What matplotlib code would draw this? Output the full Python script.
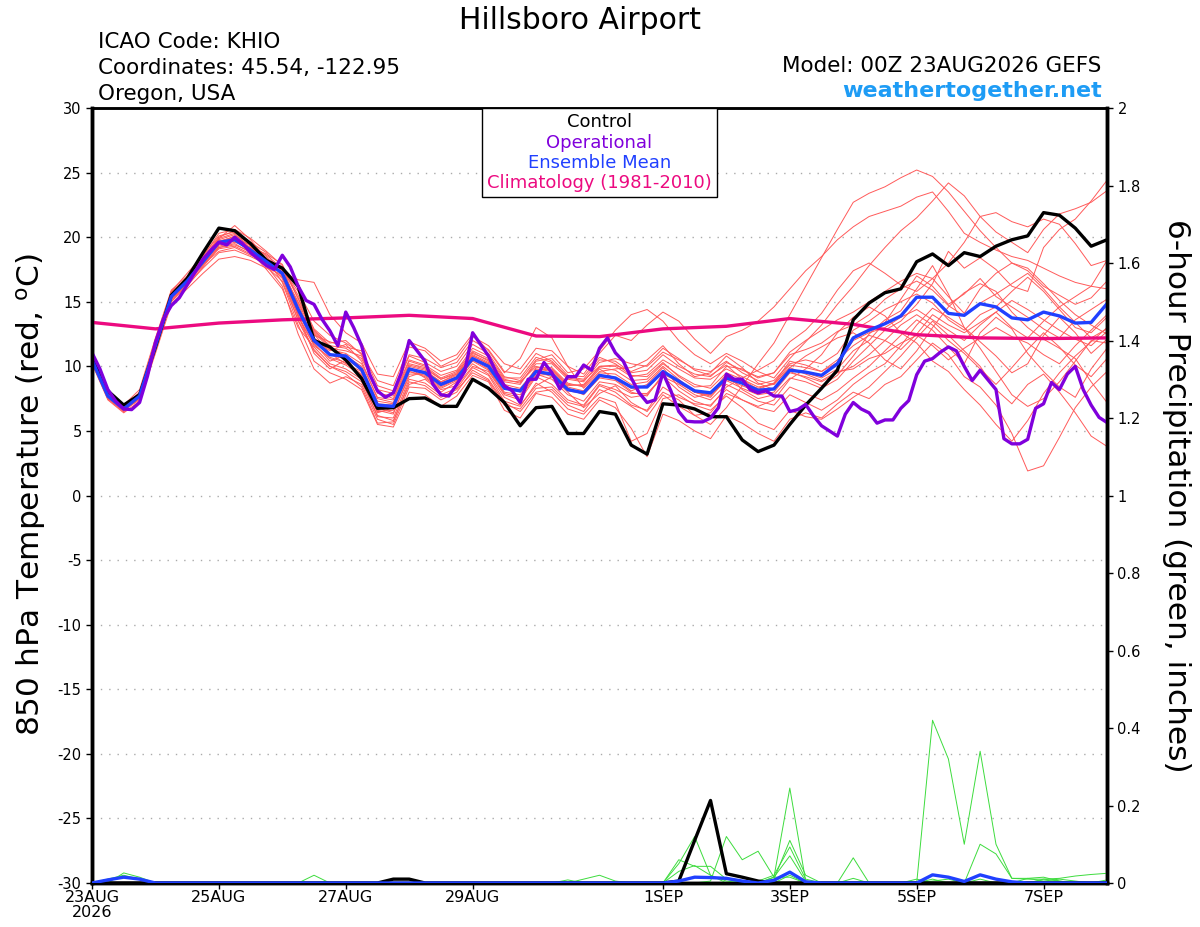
import matplotlib
matplotlib.use('Agg')
import matplotlib.pyplot as plt
import numpy as np

plt.rcParams['font.family'] = ['DejaVu Sans']
plt.rcParams['axes.unicode_minus'] = False

# forecast hours: 6-hourly ensemble, 3-hourly operational, daily climatology
hours_6h = np.arange(0, 385, 6)
hours_3h = np.arange(0, 385, 3)
hours_24h = np.arange(0, 385, 24)

tick_hours = [0, 48, 96, 144, 216, 264, 312, 360]
tick_labels = ['23AUG\n2026', '25AUG', '27AUG', '29AUG', '1SEP', '3SEP', '5SEP', '7SEP']

# 850 hPa temperature (C)
control_t = [10.6, 8.1, 7.0, 7.8, 11.5, 15.5, 16.8, 18.8, 20.7, 20.5, 19.5, 18.2, 17.6, 16.2, 12.0, 11.5, 10.5,
             9.05, 6.75, 6.8, 7.5, 7.55, 6.9, 6.9, 9.0, 8.3, 7.2, 5.4, 6.8, 6.9, 4.8, 4.8, 6.5,
             6.3, 3.9, 3.2, 7.1, 7.0, 6.7, 6.1, 6.1, 4.3, 3.4, 3.9, 5.5, 7.0, 8.3, 9.7,
             13.6, 14.9, 15.7, 16.0, 18.1, 18.7, 17.8, 18.8, 18.5, 19.3, 19.8, 20.1, 21.9, 21.7, 20.7, 19.3, 19.8]

mean_t = [10.5, 7.7, 6.7, 7.7, 11.6, 15.4, 16.6, 18.1, 19.6, 19.8, 19.0, 18.1, 17.2, 14.4, 12.0, 10.9, 10.8,
          9.75, 7.0, 6.9, 9.8, 9.5, 8.6, 9.1, 10.6, 10.0, 8.3, 8.1, 9.6, 9.4, 8.2, 7.95, 9.3,
          9.1, 8.4, 8.4, 9.6, 8.85, 8.1, 7.95, 9.1, 8.7, 8.15, 8.25, 9.7, 9.55, 9.3, 10.2,
          12.2, 12.8, 13.3, 13.9, 15.35, 15.35, 14.1, 13.95, 14.85, 14.6, 13.75, 13.6, 14.2, 13.9, 13.35, 13.4, 14.85]

operational_t = [11.05, 9.8, 8.2, 7.3, 6.7, 6.65, 7.2, 9.25, 11.85, 13.65, 14.7, 15.3, 16.3, 17.3, 18.3, 19.0,
                 19.6, 19.4, 20.0, 19.5, 18.8, 18.3, 17.8, 17.5, 18.6, 17.7, 16.2, 15.1, 14.8, 13.65, 12.75, 11.6,
                 14.2, 13.0, 11.6, 9.4, 8.1, 7.6, 7.95, 9.5, 12.0, 11.2, 10.4, 8.6, 7.8, 7.7, 8.6, 9.6,
                 12.6, 11.7, 10.8, 9.5, 8.5, 8.1, 7.2, 9.0, 9.0, 10.3, 9.5, 8.25, 9.2, 9.2, 10.1, 9.7,
                 11.4, 12.2, 11.05, 10.4, 9.1, 7.95, 7.2, 7.4, 9.5, 8.1, 6.5, 5.75, 5.7, 5.7, 6.0, 6.8,
                 9.4, 9.0, 9.0, 8.2, 7.95, 8.1, 7.7, 7.7, 6.5, 6.65, 7.05, 6.15, 5.4, 5.0, 4.6, 6.3,
                 7.2, 6.7, 6.4, 5.6, 5.85, 5.85, 6.75, 7.35, 9.35, 10.4, 10.6, 11.1, 11.5, 11.2, 10.0, 8.9,
                 9.7, 8.95, 8.2, 4.4, 4.0, 4.0, 4.35, 6.75, 7.1, 8.75, 8.2, 9.4, 10.0, 8.2, 7.0, 6.05,
                 5.65]

climatology_t = [13.4, 12.9, 13.35, 13.6, 13.75, 13.95, 13.7, 12.35, 12.3, 12.9, 13.1, 13.7, 13.25, 12.45,
                 12.2, 12.15, 12.2]

members_t = [
    [10.3, 7.5, 6.5, 7.9, 12.0, 15.8, 17.2, 18.6, 20.1, 20.4, 19.5, 18.5, 17.0, 13.5, 11.2, 10.0, 9.6,
     8.8, 6.2, 5.8, 8.6, 9.0, 8.0, 8.8, 10.2, 9.4, 7.6, 7.0, 8.5, 9.2, 8.0, 6.8, 7.9, 8.5, 7.2, 6.5, 8.0,
     7.4, 6.2, 5.5, 6.8, 8.5, 10.2, 11.8, 14.0, 16.2, 18.4, 20.6,
     22.7, 23.4, 23.9, 24.6, 25.2, 24.7, 23.5, 22.0, 20.5, 19.2, 18.0, 17.4, 16.2, 15.5, 14.8, 15.3, 16.6],
    [10.7, 7.9, 6.9, 7.5, 11.2, 15.0, 16.4, 17.8, 19.3, 19.6, 19.2, 18.7, 17.9, 15.2, 12.8, 11.6, 11.4,
     10.6, 8.2, 7.9, 10.8, 10.3, 9.6, 10.0, 11.7, 11.0, 9.2, 8.9, 10.5, 10.9, 9.5, 9.8, 11.2, 12.8, 14.0,
     14.4, 13.5, 12.0, 10.9, 10.2, 11.0, 10.4, 9.6, 9.1, 10.6, 11.9, 13.2, 14.8,
     16.2, 17.8, 19.2, 20.5, 21.5, 22.8, 24.2, 23.2, 21.6, 20.4, 19.6, 18.8, 20.6, 21.8, 22.2, 22.7, 23.6],
    [10.4, 7.6, 6.6, 7.6, 11.8, 15.6, 16.9, 18.4, 19.9, 20.9, 19.8, 18.3, 16.5, 13.2, 10.4, 9.5, 9.0,
     8.2, 5.5, 5.3, 8.0, 7.8, 6.9, 7.7, 9.3, 8.8, 6.6, 6.0, 7.9, 7.6, 6.3, 5.9, 7.4, 6.8, 5.2, 3.0, 6.3,
     5.8, 5.0, 4.4, 6.2, 5.6, 4.8, 4.2, 5.9, 6.4, 6.0, 7.1,
     8.0, 7.5, 8.6, 9.2, 10.5, 11.8, 10.9, 9.2, 8.4, 7.0, 4.8, 1.9, 2.3, 4.5, 6.8, 8.4, 9.6],
    [10.6, 7.8, 7.0, 8.2, 12.2, 15.9, 17.0, 18.2, 19.2, 19.5, 18.8, 18.0, 17.5, 15.8, 13.5, 12.4, 11.8,
     11.0, 8.9, 8.5, 11.5, 11.2, 10.0, 10.6, 12.3, 11.6, 10.2, 9.8, 11.4, 11.2, 10.0, 9.4, 11.0, 12.4, 12.0,
     13.2, 14.2, 13.5, 12.1, 11.0, 12.3, 12.8, 13.5, 14.6, 16.0, 17.4, 18.5, 19.8,
     20.8, 21.6, 22.0, 22.4, 23.1, 23.5, 22.0, 20.3, 19.6, 19.0, 18.5, 18.2, 17.6, 17.0, 16.5, 16.2, 16.0],
    [10.2, 7.4, 6.4, 7.3, 11.0, 14.8, 16.0, 17.2, 18.3, 18.5, 18.2, 17.6, 17.1, 14.9, 12.5, 11.0, 10.2,
     9.6, 6.8, 6.4, 9.2, 9.6, 8.8, 9.4, 10.8, 10.2, 8.5, 8.0, 9.9, 9.9, 8.7, 8.4, 9.8, 9.0, 8.1, 8.6, 9.9,
     8.4, 7.6, 7.9, 9.4, 8.2, 7.5, 7.8, 9.1, 8.8, 8.3, 9.0,
     10.4, 11.6, 12.8, 13.5, 14.8, 16.4, 18.9, 17.6, 18.4, 17.5, 16.2, 15.8, 19.2, 20.6, 21.4, 22.8, 24.4],
    [10.8, 8.0, 6.8, 7.8, 11.7, 15.5, 16.8, 18.5, 20.3, 20.6, 19.9, 18.9, 17.8, 14.0, 11.0, 9.8, 10.5,
     9.2, 6.4, 6.8, 9.9, 9.1, 8.2, 8.5, 10.0, 9.6, 7.8, 7.4, 9.2, 8.6, 7.4, 7.0, 8.6, 8.2, 7.6, 7.8, 9.2,
     8.1, 7.3, 6.9, 8.4, 9.1, 9.7, 10.4, 11.9, 12.8, 14.1, 15.9,
     17.4, 18.0, 17.2, 16.3, 15.8, 16.8, 18.0, 19.6, 21.6, 21.9, 21.2, 20.8, 21.4, 21.0, 19.5, 17.8, 18.2],
    [10.5, 7.7, 6.6, 7.4, 11.4, 15.2, 16.3, 17.6, 18.8, 19.0, 18.5, 17.9, 17.3, 16.7, 16.5, 14.0, 12.6,
     11.8, 9.4, 9.2, 11.9, 11.4, 10.4, 10.9, 12.5, 11.2, 9.5, 10.6, 13.0, 12.2, 10.0, 8.3, 9.6, 9.8, 9.9,
     10.5, 11.6, 10.2, 9.2, 9.5, 10.8, 9.9, 8.7, 8.2, 9.6, 9.1, 8.5, 9.3,
     10.8, 12.5, 13.6, 14.3, 16.0, 17.8, 15.6, 13.0, 11.9, 10.8, 9.5, 10.2, 12.4, 13.8, 12.6, 11.0, 12.1],
    [10.4, 7.6, 6.7, 7.9, 11.9, 15.7, 16.9, 18.3, 19.8, 20.2, 19.3, 17.8, 16.2, 12.5, 9.8, 8.7, 9.2,
     8.6, 5.9, 5.5, 8.4, 8.3, 7.4, 8.0, 9.7, 9.0, 7.2, 6.5, 8.0, 8.2, 7.0, 6.5, 8.2, 7.7, 6.9, 6.1, 7.8,
     6.9, 6.2, 6.4, 7.9, 7.4, 6.9, 7.4, 9.0, 9.8, 10.9, 12.6,
     13.8, 14.6, 13.9, 12.6, 11.8, 10.4, 9.6, 8.2, 7.0, 5.5, 4.2, 5.8, 7.9, 9.5, 10.8, 11.9, 13.0],
    [10.6, 7.8, 6.8, 7.6, 11.5, 15.3, 16.5, 17.9, 19.4, 19.9, 19.4, 18.6, 17.6, 15.5, 12.9, 11.8, 12.0,
     10.9, 8.0, 7.5, 10.4, 10.0, 9.1, 9.6, 11.2, 10.6, 9.0, 8.7, 10.2, 10.2, 9.0, 8.8, 10.3, 10.6, 10.2,
     10.0, 11.1, 10.5, 9.8, 9.6, 10.4, 9.5, 8.9, 8.6, 9.9, 10.8, 11.5, 12.2,
     12.6, 11.8, 10.5, 9.8, 11.2, 13.0, 14.6, 15.7, 16.4, 15.8, 14.2, 13.0, 12.1, 11.4, 10.6, 8.8, 7.2],
    [10.3, 7.5, 6.5, 7.7, 11.6, 15.4, 16.7, 18.2, 19.7, 20.0, 18.9, 17.5, 16.0, 13.0, 11.5, 10.2, 9.8,
     9.0, 6.1, 6.0, 9.0, 8.7, 7.8, 8.3, 9.9, 9.3, 7.3, 6.9, 8.7, 8.0, 6.7, 6.3, 7.6, 7.2, 4.2, 4.8, 7.5,
     7.8, 7.0, 6.6, 7.7, 6.8, 5.6, 5.1, 6.6, 6.1, 5.9, 6.7,
     7.6, 8.4, 9.6, 10.8, 12.2, 13.5, 12.4, 11.2, 10.0, 8.2, 7.1, 8.6, 9.4, 8.0, 6.4, 4.6, 3.8],
    [10.7, 7.9, 6.9, 7.9, 11.9, 15.6, 16.6, 17.9, 19.1, 19.3, 18.7, 18.2, 17.7, 14.6, 12.2, 11.3, 11.0,
     10.2, 7.6, 7.4, 10.2, 9.9, 9.0, 9.5, 11.0, 10.5, 8.8, 8.6, 10.4, 10.6, 9.3, 9.2, 10.7, 10.2, 9.3,
     9.2, 10.3, 9.2, 8.4, 8.5, 10.0, 9.8, 9.1, 9.5, 11.1, 12.0, 12.8, 13.6,
     14.2, 15.0, 15.8, 16.6, 17.2, 16.8, 15.4, 14.1, 16.0, 17.2, 18.0, 17.6, 16.4, 15.1, 14.0, 13.2, 12.5],
    [10.5, 7.6, 6.6, 7.5, 11.3, 15.1, 16.4, 18.0, 19.5, 19.7, 19.0, 18.4, 17.4, 13.8, 11.6, 10.7, 10.3,
     9.4, 6.6, 6.3, 9.4, 9.4, 8.5, 9.0, 10.5, 9.8, 8.0, 7.8, 9.4, 9.0, 7.8, 7.3, 8.8, 8.6, 7.9, 7.9, 9.2,
     8.6, 7.8, 7.4, 8.6, 8.0, 7.3, 7.0, 8.4, 7.9, 7.4, 8.1,
     9.1, 10.0, 11.2, 12.4, 13.6, 12.8, 11.5, 10.2, 12.6, 13.8, 12.9, 11.0, 9.6, 8.4, 7.6, 9.8, 11.4],
    [10.4, 7.7, 6.8, 7.8, 11.8, 15.5, 16.7, 18.1, 19.6, 20.1, 19.6, 18.8, 17.0, 14.2, 12.4, 11.9, 11.5,
     11.2, 8.5, 8.1, 10.9, 10.6, 9.9, 10.3, 12.0, 11.3, 9.6, 9.4, 11.0, 10.4, 9.1, 8.9, 10.0, 10.1, 9.6,
     10.1, 11.4, 10.6, 9.7, 9.3, 10.1, 9.0, 8.2, 8.7, 10.4, 10.1, 9.6, 10.5,
     11.6, 12.4, 12.0, 11.3, 12.5, 14.0, 13.2, 12.6, 13.4, 14.2, 13.0, 12.2, 13.5, 14.6, 15.4, 16.2, 18.2],
    [10.6, 7.8, 6.7, 7.6, 11.4, 15.2, 16.5, 18.0, 19.9, 20.3, 19.1, 17.7, 16.6, 13.6, 11.3, 10.0, 9.4,
     8.4, 5.6, 5.7, 8.8, 8.5, 7.6, 8.2, 9.5, 8.9, 7.0, 6.7, 8.3, 8.4, 7.2, 6.9, 8.5, 8.0, 7.0, 6.6, 8.4,
     7.6, 7.1, 7.0, 8.2, 7.4, 6.8, 6.5, 7.8, 7.2, 6.6, 7.4,
     8.6, 9.5, 10.2, 11.6, 13.2, 14.5, 13.8, 13.0, 11.4, 9.6, 7.8, 6.9, 7.5, 8.8, 10.4, 12.0, 11.8],
    [10.5, 7.7, 6.9, 8.0, 12.1, 15.8, 16.8, 17.9, 18.9, 19.2, 18.6, 18.1, 17.3, 15.0, 12.7, 11.5, 10.8,
     10.0, 7.3, 7.1, 10.0, 9.7, 8.8, 9.3, 10.9, 10.3, 8.6, 8.3, 9.8, 9.6, 8.4, 8.1, 9.5, 9.4, 8.6, 8.8,
     10.0, 9.0, 8.0, 7.6, 9.0, 8.5, 8.0, 8.3, 9.7, 9.5, 9.1, 9.8,
     11.2, 12.0, 13.4, 15.2, 17.0, 16.2, 14.8, 15.6, 16.8, 15.4, 14.6, 13.8, 12.9, 12.2, 13.6, 14.4, 15.2],
    [10.3, 7.5, 6.5, 7.6, 11.5, 15.3, 16.6, 18.4, 20.0, 20.5, 19.6, 18.3, 17.1, 14.3, 11.8, 10.4, 10.9,
     9.8, 7.1, 7.0, 9.6, 9.3, 8.4, 9.0, 10.6, 10.1, 8.4, 8.2, 9.7, 9.8, 8.6, 8.5, 10.0, 10.0, 9.2, 9.4,
     10.5, 9.8, 9.1, 9.0, 9.8, 9.2, 8.6, 8.9, 10.2, 10.5, 10.2, 11.0,
     12.8, 13.5, 14.4, 15.0, 15.6, 14.9, 13.6, 12.8, 14.0, 14.6, 15.8, 16.9, 15.8, 14.4, 13.0, 12.6, 13.8],
    [10.7, 7.9, 6.8, 7.7, 11.6, 15.4, 16.5, 18.0, 19.5, 19.8, 19.1, 18.2, 17.2, 14.8, 12.1, 11.2, 11.7,
     10.4, 7.5, 7.2, 10.1, 9.8, 9.0, 9.4, 11.1, 10.4, 8.9, 8.8, 10.0, 9.7, 8.5, 8.6, 9.9, 9.7, 8.9, 9.0,
     10.2, 9.3, 8.6, 8.3, 9.5, 9.0, 8.4, 8.6, 9.9, 9.4, 8.9, 9.6,
     9.8, 10.6, 11.0, 11.8, 12.4, 11.6, 10.5, 11.4, 12.2, 13.0, 12.3, 11.8, 10.9, 10.2, 11.6, 12.8, 14.0],
    [10.5, 7.6, 6.7, 7.9, 11.8, 15.6, 16.9, 18.3, 19.7, 19.9, 19.2, 18.0, 16.8, 13.9, 11.7, 10.6, 10.1,
     9.3, 6.5, 6.6, 9.6, 9.2, 8.3, 8.9, 10.4, 9.7, 7.9, 7.6, 9.3, 9.4, 8.3, 7.8, 9.1, 8.9, 8.0, 7.7, 9.4,
     8.8, 8.0, 7.8, 8.9, 8.3, 7.8, 8.0, 9.5, 9.2, 8.8, 9.5,
     10.0, 10.9, 12.0, 13.2, 14.0, 13.2, 12.0, 11.0, 9.8, 8.6, 9.9, 11.3, 12.6, 11.5, 10.1, 9.2, 10.6],
    [10.4, 7.7, 6.6, 7.5, 11.3, 15.0, 16.2, 17.7, 19.2, 19.4, 18.9, 18.3, 17.6, 15.3, 12.6, 11.4, 11.2,
     10.8, 7.9, 7.7, 10.5, 10.1, 9.3, 9.7, 11.4, 10.8, 9.1, 9.1, 10.7, 10.3, 9.2, 9.0, 10.5, 10.4, 9.5,
     9.7, 10.9, 10.0, 9.4, 9.2, 10.3, 9.7, 9.2, 9.5, 10.9, 11.3, 11.8, 12.7,
     13.2, 14.0, 15.2, 16.0, 16.6, 15.9, 14.7, 13.9, 14.9, 15.6, 16.4, 17.2, 16.0, 14.6, 13.4, 12.2, 12.9],
    [10.6, 7.8, 6.8, 7.8, 11.7, 15.5, 16.7, 18.2, 19.6, 19.9, 19.0, 17.9, 16.9, 14.1, 11.9, 10.9, 10.6,
     9.7, 7.0, 6.9, 9.8, 9.6, 8.7, 9.2, 10.8, 10.2, 8.4, 8.1, 9.6, 9.2, 8.1, 7.9, 9.2, 9.1, 8.3, 8.4, 9.6,
     8.7, 8.0, 7.7, 9.0, 8.7, 8.3, 8.7, 10.1, 9.9, 9.6, 10.3,
     12.0, 12.6, 13.0, 13.8, 14.4, 13.6, 12.8, 12.0, 13.2, 14.2, 15.1, 14.4, 13.6, 12.8, 12.1, 11.6, 12.7],
]

# 6-hour precipitation (inches)
control_p = [0, 0, 0, 0, 0, 0, 0, 0, 0, 0, 0, 0, 0, 0, 0, 0, 0, 0, 0, 0.01, 0.01, 0, 0, 0, 0, 0, 0, 0,
             0, 0, 0, 0, 0, 0, 0, 0, 0, 0.005, 0.11, 0.213, 0.024, 0.015, 0.005, 0, 0, 0, 0, 0, 0, 0, 0,
             0, 0, 0, 0, 0, 0, 0, 0, 0, 0, 0, 0, 0, 0]

mean_p = [0, 0.008, 0.015, 0.01, 0, 0, 0, 0, 0, 0, 0, 0, 0, 0, 0, 0, 0, 0, 0, 0, 0, 0, 0, 0, 0, 0, 0, 0,
          0, 0, 0, 0, 0, 0, 0, 0, 0, 0.005, 0.015, 0.014, 0.012, 0.005, 0, 0.007, 0.028, 0.003, 0, 0, 0,
          0, 0, 0, 0, 0.021, 0.015, 0.004, 0.021, 0.01, 0.003, 0, 0, 0, 0, 0, 0]

members_p = [
    [0, 0, 0, 0, 0, 0, 0, 0, 0, 0, 0, 0, 0, 0, 0, 0, 0, 0, 0, 0, 0, 0, 0, 0, 0, 0, 0, 0, 0, 0, 0, 0, 0,
     0, 0, 0, 0, 0, 0, 0, 0, 0, 0, 0, 0, 0, 0, 0, 0, 0, 0, 0, 0, 0.42, 0.32, 0.10, 0.34, 0.10, 0.012,
     0.01, 0.01, 0.005, 0, 0, 0],
    [0, 0, 0, 0, 0, 0, 0, 0, 0, 0, 0, 0, 0, 0, 0, 0, 0, 0, 0, 0, 0, 0, 0, 0, 0, 0, 0, 0, 0, 0, 0, 0, 0,
     0, 0, 0, 0, 0, 0, 0, 0, 0, 0, 0, 0, 0, 0, 0, 0, 0, 0, 0, 0, 0.005, 0.01, 0, 0.10, 0.075, 0.012,
     0.012, 0.015, 0.005, 0, 0, 0],
    [0, 0, 0, 0, 0, 0, 0, 0, 0, 0, 0, 0, 0, 0, 0, 0, 0, 0, 0, 0, 0, 0, 0, 0, 0, 0, 0, 0, 0, 0, 0, 0, 0,
     0, 0, 0, 0, 0, 0, 0, 0, 0, 0, 0.015, 0.245, 0.005, 0, 0, 0, 0, 0, 0, 0, 0, 0, 0, 0, 0, 0, 0, 0, 0,
     0, 0, 0],
    [0, 0, 0, 0, 0, 0, 0, 0, 0, 0, 0, 0, 0, 0, 0, 0, 0, 0, 0, 0, 0, 0, 0, 0, 0, 0, 0, 0, 0, 0, 0, 0, 0,
     0, 0, 0, 0, 0, 0, 0, 0, 0, 0, 0.01, 0.11, 0.02, 0, 0, 0, 0, 0, 0, 0, 0, 0, 0, 0, 0, 0, 0, 0, 0, 0,
     0, 0],
    [0, 0, 0, 0, 0, 0, 0, 0, 0, 0, 0, 0, 0, 0, 0, 0, 0, 0, 0, 0, 0, 0, 0, 0, 0, 0, 0, 0, 0, 0, 0, 0, 0,
     0, 0, 0, 0, 0, 0, 0, 0, 0, 0.005, 0.02, 0.093, 0.01, 0, 0, 0, 0, 0, 0, 0, 0, 0, 0, 0, 0, 0, 0, 0, 0,
     0, 0, 0],
    [0, 0, 0, 0, 0, 0, 0, 0, 0, 0, 0, 0, 0, 0, 0, 0, 0, 0, 0, 0, 0, 0, 0, 0, 0, 0, 0, 0, 0, 0, 0, 0, 0,
     0, 0, 0, 0, 0, 0, 0, 0, 0, 0, 0.015, 0.07, 0.005, 0, 0, 0, 0, 0, 0, 0, 0, 0, 0, 0, 0, 0, 0, 0, 0, 0,
     0, 0],
    [0, 0, 0, 0, 0, 0, 0, 0, 0, 0, 0, 0, 0, 0, 0, 0, 0, 0, 0, 0, 0, 0, 0, 0, 0, 0, 0, 0, 0, 0, 0, 0, 0,
     0, 0, 0, 0, 0.05, 0.12, 0.02, 0.005, 0, 0, 0, 0, 0, 0, 0, 0, 0, 0, 0, 0, 0, 0, 0, 0, 0, 0, 0, 0, 0,
     0, 0, 0],
    [0, 0, 0, 0, 0, 0, 0, 0, 0, 0, 0, 0, 0, 0, 0, 0, 0, 0, 0, 0, 0, 0, 0, 0, 0, 0, 0, 0, 0, 0, 0, 0, 0,
     0, 0, 0, 0, 0.06, 0.043, 0.043, 0.01, 0, 0, 0, 0, 0, 0, 0, 0, 0, 0, 0, 0, 0, 0, 0, 0, 0, 0, 0, 0, 0,
     0, 0, 0],
    [0, 0, 0, 0, 0, 0, 0, 0, 0, 0, 0, 0, 0, 0, 0, 0, 0, 0, 0, 0, 0, 0, 0, 0, 0, 0, 0, 0, 0, 0, 0, 0, 0,
     0, 0, 0, 0, 0, 0, 0.005, 0.12, 0.06, 0.082, 0.015, 0.015, 0, 0, 0, 0, 0, 0, 0, 0, 0, 0, 0, 0, 0, 0,
     0, 0, 0, 0, 0, 0],
    [0, 0, 0, 0, 0, 0, 0, 0, 0, 0, 0, 0, 0, 0, 0, 0, 0, 0, 0, 0, 0, 0, 0, 0, 0, 0, 0, 0, 0, 0, 0, 0, 0,
     0, 0, 0, 0, 0, 0, 0, 0, 0, 0, 0, 0, 0, 0, 0, 0.065, 0, 0, 0, 0.01, 0, 0, 0, 0, 0, 0, 0, 0, 0, 0, 0,
     0],
    [0, 0, 0.026, 0.015, 0, 0, 0, 0, 0, 0, 0, 0, 0, 0, 0.02, 0, 0, 0, 0, 0, 0, 0, 0, 0, 0, 0, 0, 0, 0, 0,
     0, 0.01, 0.02, 0.005, 0, 0, 0, 0, 0, 0, 0, 0, 0, 0, 0, 0, 0, 0, 0, 0, 0, 0, 0, 0, 0, 0, 0, 0, 0, 0,
     0.01, 0.012, 0.018, 0.022, 0.025],
    [0, 0.01, 0.02, 0.01, 0, 0, 0, 0, 0, 0, 0, 0, 0, 0, 0, 0, 0, 0, 0, 0, 0, 0, 0, 0, 0, 0, 0, 0, 0, 0,
     0.008, 0, 0, 0, 0, 0, 0, 0.03, 0.045, 0.02, 0, 0, 0, 0, 0.02, 0, 0, 0, 0.012, 0, 0, 0, 0, 0.01, 0,
     0, 0.01, 0, 0, 0.012, 0.005, 0.01, 0.005, 0, 0.008],
]

fig = plt.figure(figsize=(12, 9.27), dpi=100)
ax = fig.add_axes([92 / 1200, 1 - 883 / 927, (1107 - 92) / 1200, (883 - 108) / 927])

for m in members_t:
    ax.plot(hours_6h, m, color='#ff5a5a', lw=0.7, zorder=2)
clim_line, = ax.plot(hours_24h, climatology_t, color='#ec0a80', lw=2.4, zorder=3)
ctrl_line, = ax.plot(hours_6h, control_t, color='black', lw=2.4, zorder=4)
mean_line, = ax.plot(hours_6h, mean_t, color='#2040ff', lw=2.4, zorder=5)
oper_line, = ax.plot(hours_3h, operational_t, color='#8000dc', lw=2.4, zorder=6)

ax.set_xlim(0, 384)
ax.set_ylim(-30, 30)
ax.set_yticks(np.arange(-30, 31, 5))
ax.tick_params(axis='y', labelsize=10.5, length=4, width=1)
ax.set_xticks(tick_hours)
ax.set_xticklabels(tick_labels, fontsize=11.5, linespacing=1.0)
ax.tick_params(axis='x', length=4, width=1, pad=1)
for yv in range(-25, 30, 5):
    ax.axhline(yv, color='#aaaaaa', lw=1.0, ls=(0, (1, 5)), zorder=1)

ax2 = ax.twinx()
for p in members_p:
    ax2.plot(hours_6h, p, color='#3ddc3d', lw=0.7, zorder=2)
ax2.plot(hours_6h, control_p, color='black', lw=2.4, zorder=4)
ax2.plot(hours_6h, mean_p, color='#2040ff', lw=2.4, zorder=5)
ax2.set_ylim(0, 2)
ax2.set_xlim(0, 384)
ax2.set_yticks(np.arange(0, 2.01, 0.2))
ax2.set_yticklabels(['0', '0.2', '0.4', '0.6', '0.8', '1', '1.2', '1.4', '1.6', '1.8', '2'])
ax2.tick_params(axis='y', labelsize=10.5, length=4, width=1)

for a in (ax, ax2):
    for side in ('left', 'right', 'bottom'):
        a.spines[side].set_linewidth(2.5)
    a.spines['top'].set_linewidth(1.8)

leg = ax2.legend([ctrl_line, oper_line, mean_line, clim_line],
                 ['Control', 'Operational', 'Ensemble Mean', 'Climatology (1981-2010)'],
                 loc='upper center', bbox_to_anchor=(0.5, 1.0), borderaxespad=0,
                 handlelength=0, handletextpad=0, labelcolor='linecolor', fontsize=13,
                 labelspacing=0.12, fancybox=False, edgecolor='black', framealpha=1,
                 borderpad=0.3)
leg.get_frame().set_linewidth(1.0)
leg.set_zorder(10)
# centre the entries inside the box
for col in leg._legend_handle_box.get_children():
    col.align = 'center'

# axis titles
fig.text(31 / 1200, 1 - 495 / 927, r'850 hPa Temperature (red, $^{\mathrm{o}}$C)', rotation=90,
         ha='center', va='center', fontsize=22.5)
fig.text(1176 / 1200, 1 - 496 / 927, '6-hour Precipitation (green, inches)', rotation=270,
         ha='center', va='center', fontsize=22.5)

# header
fig.text(580 / 1200, 1 - 29 / 927, 'Hillsboro Airport', ha='center', va='baseline', fontsize=21.5)
fig.text(98 / 1200, 1 - 48 / 927, 'ICAO Code: KHIO', ha='left', va='baseline', fontsize=15.5)
fig.text(98 / 1200, 1 - 74 / 927, 'Coordinates: 45.54, -122.95', ha='left', va='baseline', fontsize=15.5)
fig.text(98 / 1200, 1 - 100 / 927, 'Oregon, USA', ha='left', va='baseline', fontsize=15.5)
fig.text(1101 / 1200, 1 - 72 / 927, 'Model: 00Z 23AUG2026 GEFS', ha='right', va='baseline', fontsize=15.5)
fig.text(1102 / 1200, 1 - 97 / 927, 'weathertogether.net', ha='right', va='baseline', fontsize=16,
         fontweight='bold', color='#1e9cf5')

fig.savefig('out.png', dpi=100)
